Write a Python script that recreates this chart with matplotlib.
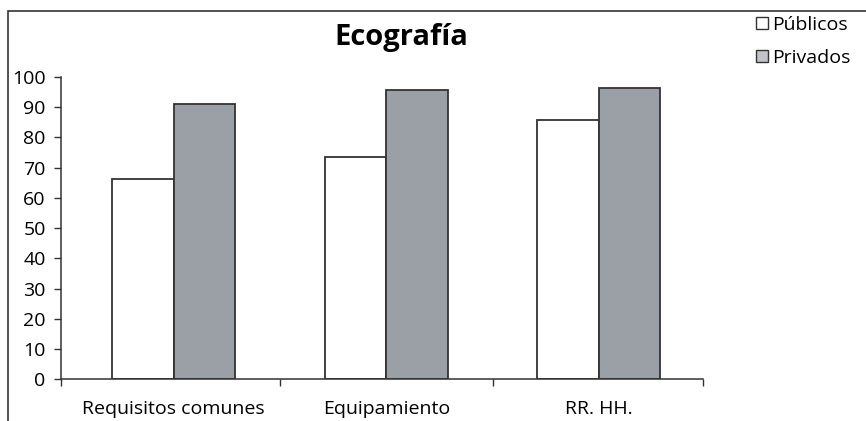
import matplotlib
matplotlib.use("Agg")
import matplotlib.pyplot as plt
from matplotlib.patches import Rectangle, Patch
import numpy as np

categories = ["Requisitos comunes", "Equipamiento", "RR. HH."]
publicos = [66.4, 73.4, 85.9]
privados = [91.2, 95.8, 96.4]
series_names = ["Públicos", "Privados"]
title = "Ecografía"

plt.rcParams['font.family'] = ['Open Sans', 'DejaVu Sans']

W, H = 866, 421
fig = plt.figure(figsize=(W/100, H/100), dpi=100)

# outer frame
fig.patches.append(Rectangle((8/W, -0.1), 1.2, 1 - 11/H + 0.1, transform=fig.transFigure,
                             fill=False, edgecolor='#333333', linewidth=1.2))

ax = fig.add_axes([61/W, 1 - 379.3/H, (703-61)/W, (379.3-77)/H])
x = np.arange(len(categories))
w = 0.29
ec = '#333333'
ax.bar(x - w/2, publicos, w, color='white', edgecolor=ec, linewidth=1.3, label=series_names[0])
ax.bar(x + w/2, privados, w, color='#9ba0a6', edgecolor=ec, linewidth=1.3, label=series_names[1])

ax.set_xlim(-0.53, 2.49)
ax.set_ylim(0, 100)
ax.set_yticks(np.arange(0, 101, 10))
ax.tick_params(axis='y', direction='out', length=5, width=1, color='#333333', labelsize=14, pad=6)
ax.set_xticks(x)
ax.set_xticklabels(categories)
ax.tick_params(axis='x', which='major', length=0, labelsize=14, pad=15)
ax.set_xticks([-0.53, 0.5, 1.5, 2.49], minor=True)
ax.tick_params(axis='x', which='minor', direction='out', length=5, width=1, color='#333333')
for s in ['top', 'right']:
    ax.spines[s].set_visible(False)
for s in ['left', 'bottom']:
    ax.spines[s].set_color('#333333')
    ax.spines[s].set_linewidth(1.1)

fig.text(401/W, 1 - 38/H, title, ha='center', va='center', fontsize=21, fontweight='bold')

handles = [Patch(facecolor='white', edgecolor=ec, linewidth=1.0),
           Patch(facecolor='#c0c3c8', edgecolor=ec, linewidth=1.0)]
fig.legend(handles, series_names, loc='upper left', bbox_to_anchor=(756/W, 1 - 16/H),
           frameon=False, fontsize=14, handlelength=0.6, handleheight=0.6,
           handletextpad=0.25, labelspacing=0.75, borderpad=0, borderaxespad=0)

fig.savefig("out.png", dpi=100)
